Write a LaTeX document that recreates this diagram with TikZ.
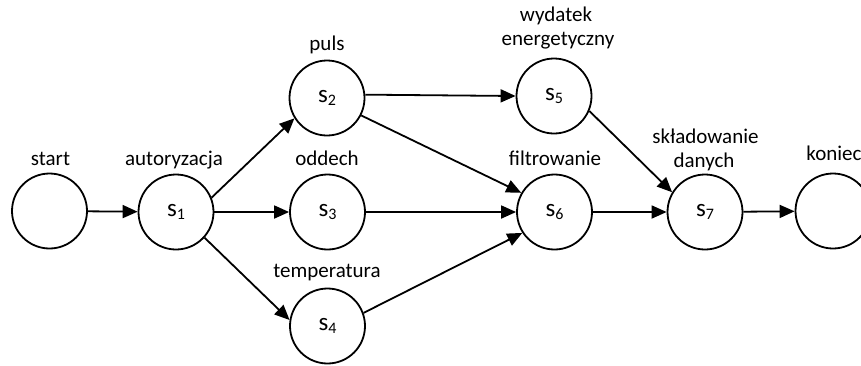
\documentclass[tikz,border=0pt]{standalone}
\usepackage{fontspec}
\setmainfont{Carlito}
\usetikzlibrary{arrows.meta}
\newcommand\stsub[1]{s\raisebox{-2.5pt}{\fontsize{16}{16}\selectfont #1}}
\begin{document}
\begin{tikzpicture}[x=1pt,y=-1pt,
  state/.style={circle,draw,line width=1.8pt,minimum size=75pt,inner sep=0pt,font=\fontsize{25}{28}\selectfont},
  lbl/.style={anchor=base,inner sep=0pt,font=\fontsize{21}{25}\selectfont},
  conn/.style={line width=1.8pt,-{Triangle[length=15pt,width=13pt]}}]
\useasboundingbox (0,0) rectangle (861,365);
% states
\node[state] (start)  at (49.5,211) {};
\node[state] (s1)     at (176,212) {\stsub{1}};
\node[state] (s2)     at (327,98) {\stsub{2}};
\node[state] (s3)     at (327.5,212) {\stsub{3}};
\node[state] (s4)     at (327.5,326) {\stsub{4}};
\node[state] (s5)     at (554,96) {\stsub{5}};
\node[state] (s6)     at (554.5,212) {\stsub{6}};
\node[state] (s7)     at (705,212) {\stsub{7}};
\node[state] (koniec) at (833,211) {};
% labels
\node[lbl] (lstart) at (50.5,165) {start};
\node[lbl] (ls1)    at (174,165) {autoryzacja};
\node[lbl] (ls2)    at (327,50) {puls};
\node[lbl] (ls3)    at (327,165) {oddech};
\node[lbl] (ls4)    at (327,277) {temperatura};
\node[lbl] (ls5a)   at (556,21) {wydatek};
\node[lbl] (ls5b)   at (558,45) {energetyczny};
\node[lbl] (ls6)    at (555,165) {filtrowanie};
\node[lbl] (ls7a)   at (705.5,143) {składowanie};
\node[lbl] (ls7b)   at (704,167) {danych};
\node[lbl] (lkon)   at (834,160) {koniec};
% connectors
\draw[conn] (start) -- (s1);
\draw[conn] (s1.22) -- (s2.212);
\draw[conn] (s1) -- (s3);
\draw[conn] (s1.-42) -- (s4.171);
\draw[conn] (s2.5) -- (s5.180);
\draw[conn] (s2.-27) -- (s6.150);
\draw[conn] (s3) -- (s6);
\draw[conn] (s4.20) -- (s6.213);
\draw[conn] (s5.-23) -- (s7.149);
\draw[conn] (s6) -- (s7);
\draw[conn] (s7) -- (koniec);
\end{tikzpicture}
\end{document}
